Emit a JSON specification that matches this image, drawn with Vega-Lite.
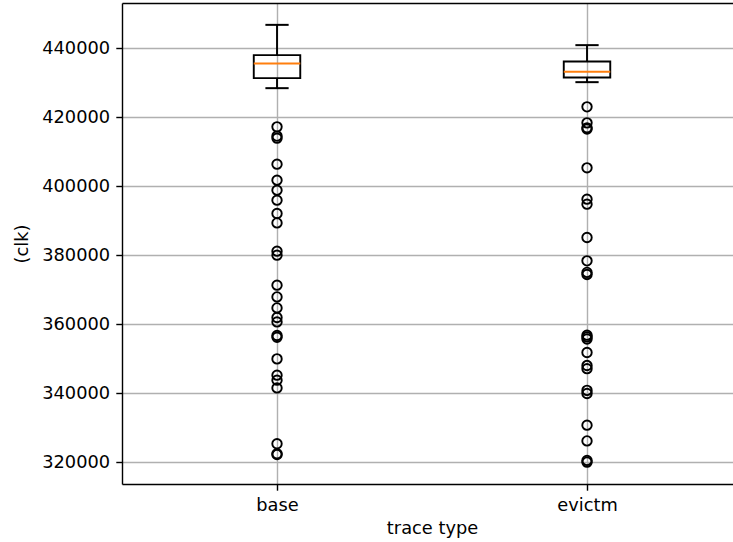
{
  "$schema": "https://vega.github.io/schema/vega-lite/v6.json",
  "width": 611,
  "height": 481,
  "autosize": {"type": "none"},
  "padding": {"left": 122, "top": 3, "right": 0, "bottom": 58},
  "background": "white",
  "config": {
    "view": {"stroke": null},
    "font": "DejaVu Sans",
    "axis": {
      "labelFont": "DejaVu Sans",
      "titleFont": "DejaVu Sans",
      "labelFontSize": 17.8,
      "titleFontSize": 17.8,
      "titleFontWeight": "normal",
      "labelColor": "black",
      "titleColor": "black",
      "domainColor": "black",
      "domainWidth": 1.42,
      "tickColor": "black",
      "tickWidth": 1.42,
      "tickSize": 6.2,
      "labelPadding": 6.2,
      "gridColor": "#b0b0b0",
      "gridWidth": 1.42,
      "gridOpacity": 1
    }
  },
  "datasets": {
    "boxes": [
      {"type": "base", "lower": 428400, "q1": 431300, "median": 435560, "q3": 437970, "upper": 446750},
      {"type": "evictm", "lower": 430140, "q1": 431500, "median": 433130, "q3": 436140, "upper": 440870}
    ],
    "outliers": [
      {"type": "base", "value": 417180},
      {"type": "base", "value": 414500},
      {"type": "base", "value": 413900},
      {"type": "base", "value": 406370},
      {"type": "base", "value": 401730},
      {"type": "base", "value": 398830},
      {"type": "base", "value": 395940},
      {"type": "base", "value": 392080},
      {"type": "base", "value": 389350},
      {"type": "base", "value": 381150},
      {"type": "base", "value": 379990},
      {"type": "base", "value": 371290},
      {"type": "base", "value": 367900},
      {"type": "base", "value": 364710},
      {"type": "base", "value": 361930},
      {"type": "base", "value": 360650},
      {"type": "base", "value": 356700},
      {"type": "base", "value": 356200},
      {"type": "base", "value": 349930},
      {"type": "base", "value": 345200},
      {"type": "base", "value": 343750},
      {"type": "base", "value": 341520},
      {"type": "base", "value": 325320},
      {"type": "base", "value": 322420},
      {"type": "base", "value": 322200},
      {"type": "evictm", "value": 422980},
      {"type": "evictm", "value": 418340},
      {"type": "evictm", "value": 416900},
      {"type": "evictm", "value": 416540},
      {"type": "evictm", "value": 405300},
      {"type": "evictm", "value": 396230},
      {"type": "evictm", "value": 394780},
      {"type": "evictm", "value": 385120},
      {"type": "evictm", "value": 378340},
      {"type": "evictm", "value": 375000},
      {"type": "evictm", "value": 374400},
      {"type": "evictm", "value": 356800},
      {"type": "evictm", "value": 356300},
      {"type": "evictm", "value": 355700},
      {"type": "evictm", "value": 351780},
      {"type": "evictm", "value": 348000},
      {"type": "evictm", "value": 347100},
      {"type": "evictm", "value": 340800},
      {"type": "evictm", "value": 339900},
      {"type": "evictm", "value": 330710},
      {"type": "evictm", "value": 326160},
      {"type": "evictm", "value": 320500},
      {"type": "evictm", "value": 320000}
    ]
  },
  "resolve": {"axis": {"x": "independent"}},
  "layer": [
    {
      "data": {"name": "boxes"},
      "mark": {"type": "rule", "color": "black", "strokeWidth": 1.9},
      "encoding": {
        "x": {
          "field": "type", "type": "nominal",
          "scale": {"type": "point", "padding": 0.4855, "align": 0.515},
          "axis": {"title": "trace type", "labelAngle": 0, "grid": true, "titlePadding": 5, "titleX": 310}
        },
        "y": {
          "field": "lower", "type": "quantitative",
          "scale": {"domain": [313663, 453085], "nice": false, "zero": false},
          "axis": {"title": "(clk)", "values": [320000, 340000, 360000, 380000, 400000, 420000, 440000], "format": "d", "grid": true, "titlePadding": 10}
        },
        "y2": {"field": "q1"}
      }
    },
    {
      "data": {"name": "boxes"},
      "mark": {"type": "rule", "color": "black", "strokeWidth": 1.9},
      "encoding": {
        "x": {"field": "type", "type": "nominal", "axis": null},
        "y": {"field": "q3", "type": "quantitative"},
        "y2": {"field": "upper"}
      }
    },
    {
      "data": {"name": "boxes"},
      "mark": {"type": "bar", "size": 46.5, "fill": "transparent", "stroke": "black", "strokeWidth": 1.9},
      "encoding": {
        "x": {"field": "type", "type": "nominal", "axis": null},
        "y": {"field": "q1", "type": "quantitative"},
        "y2": {"field": "q3"}
      }
    },
    {
      "data": {"name": "boxes"},
      "mark": {"type": "tick", "size": 46.5, "thickness": 2, "color": "#ff7f0e", "opacity": 1, "orient": "horizontal"},
      "encoding": {
        "x": {"field": "type", "type": "nominal", "axis": null},
        "y": {"field": "median", "type": "quantitative"}
      }
    },
    {
      "data": {"name": "boxes"},
      "mark": {"type": "tick", "size": 23.25, "thickness": 2, "color": "black", "opacity": 1, "orient": "horizontal"},
      "encoding": {
        "x": {"field": "type", "type": "nominal", "axis": null},
        "y": {"field": "lower", "type": "quantitative"}
      }
    },
    {
      "data": {"name": "boxes"},
      "mark": {"type": "tick", "size": 23.25, "thickness": 2, "color": "black", "opacity": 1, "orient": "horizontal"},
      "encoding": {
        "x": {"field": "type", "type": "nominal", "axis": null},
        "y": {"field": "upper", "type": "quantitative"}
      }
    },
    {
      "data": {"name": "outliers"},
      "mark": {"type": "point", "shape": "circle", "filled": false, "stroke": "black", "strokeWidth": 1.9, "size": 89, "opacity": 1},
      "encoding": {
        "x": {"field": "type", "type": "nominal", "axis": {"orient": "top", "labels": false, "ticks": false, "grid": false, "title": null, "domain": true}},
        "y": {"field": "value", "type": "quantitative"}
      }
    }
  ]
}
